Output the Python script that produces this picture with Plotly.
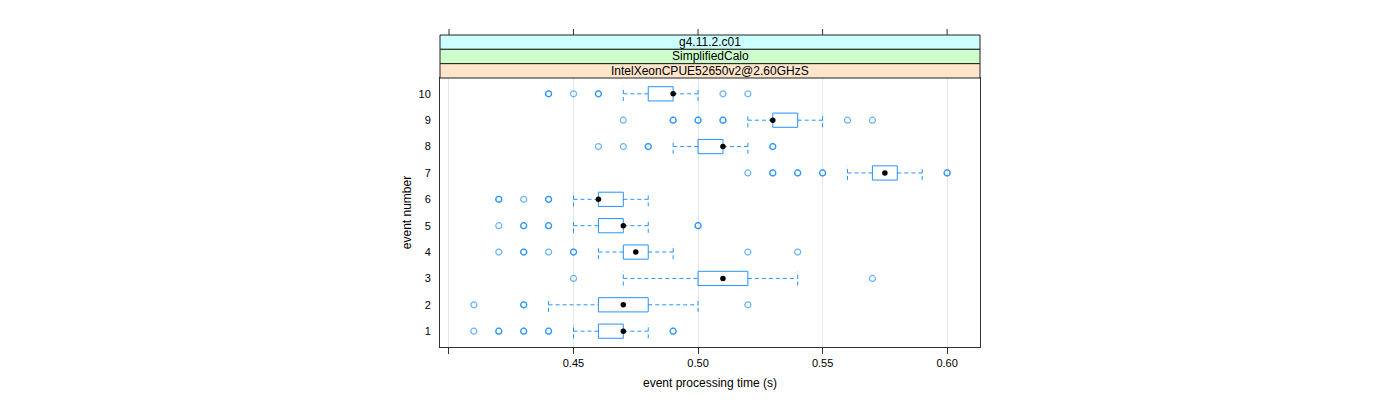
import plotly.graph_objects as go

# ---- data ----
events = [1, 2, 3, 4, 5, 6, 7, 8, 9, 10]
q1 = [0.46, 0.46, 0.50, 0.47, 0.46, 0.46, 0.57, 0.50, 0.53, 0.48]
medians = [0.47, 0.47, 0.51, 0.475, 0.47, 0.46, 0.575, 0.51, 0.53, 0.49]
q3 = [0.47, 0.48, 0.52, 0.48, 0.47, 0.47, 0.58, 0.51, 0.54, 0.49]
whisker_lo = [0.45, 0.44, 0.47, 0.46, 0.45, 0.45, 0.56, 0.49, 0.52, 0.47]
whisker_hi = [0.48, 0.50, 0.54, 0.49, 0.48, 0.48, 0.59, 0.52, 0.55, 0.50]
outliers = {
    1: [0.41, 0.42, 0.42, 0.43, 0.43, 0.44, 0.44, 0.49, 0.49],
    2: [0.41, 0.43, 0.43, 0.52],
    3: [0.45, 0.57],
    4: [0.42, 0.43, 0.43, 0.44, 0.45, 0.45, 0.52, 0.54],
    5: [0.42, 0.43, 0.43, 0.44, 0.44, 0.50, 0.50],
    6: [0.42, 0.42, 0.43, 0.44, 0.44],
    7: [0.52, 0.53, 0.53, 0.54, 0.54, 0.55, 0.55, 0.60, 0.60],
    8: [0.46, 0.47, 0.48, 0.48, 0.53, 0.53],
    9: [0.47, 0.49, 0.49, 0.50, 0.50, 0.51, 0.51, 0.56, 0.57],
    10: [0.44, 0.44, 0.45, 0.46, 0.46, 0.51, 0.52],
}
strip_labels = ["g4.11.2.c01", "SimplifiedCalo", "IntelXeonCPUE52650v2@2.60GHzS"]
strip_colors = ["#CCFFFF", "#CCFFCC", "#FFE5CC"]
x_tickvals = [0.40, 0.45, 0.50, 0.55, 0.60]
x_ticktext = ["", "0.45", "0.50", "0.55", "0.60"]

BLUE = "#0080ff"
H = 0.27  # half box height (data units)
FONT = "Liberation Sans, Arial, Helvetica, sans-serif"
OFF = 8  # page body offset

fig = go.Figure()

# boxes
bx, by = [], []
for e, a, b in zip(events, q1, q3):
    bx += [a, b, b, a, a, None]
    by += [e - H, e - H, e + H, e + H, e - H, None]
fig.add_trace(go.Scatter(x=bx, y=by, mode="lines", line=dict(color=BLUE, width=1),
                         opacity=0.85, hoverinfo="skip", showlegend=False))

# whiskers (dashed) and caps
wx, wy = [], []
for e, lo, a, b, hi in zip(events, whisker_lo, q1, q3, whisker_hi):
    wx += [lo, a, None, b, hi, None]
    wy += [e, e, None, e, e, None]
    wx += [lo, lo, None, hi, hi, None]
    wy += [e - H, e + H, None, e - H, e + H, None]
fig.add_trace(go.Scatter(x=wx, y=wy, mode="lines",
                         line=dict(color=BLUE, width=1, dash="4px,3px"),
                         opacity=0.85, hoverinfo="skip", showlegend=False))

# outliers
ox, oy = [], []
for e in events:
    for v in outliers[e]:
        ox.append(v)
        oy.append(e)
fig.add_trace(go.Scatter(x=ox, y=oy, mode="markers",
                         marker=dict(symbol="circle-open", size=6, color=BLUE,
                                     opacity=0.6, line=dict(width=1.2, color=BLUE)),
                         showlegend=False))

# medians
fig.add_trace(go.Scatter(x=medians, y=events, mode="markers",
                         marker=dict(symbol="circle", size=5.5, color="black"),
                         showlegend=False))

# layout geometry (target pixel positions in the screenshot)
plot_left, plot_right = 440, 980
plot_top, panel_top, plot_bottom = 35, 78, 347
ph = plot_bottom - plot_top
ydom_top = (plot_bottom - panel_top) / ph

shapes = []
strip_h = (1 - ydom_top) / 3
annotations = []
for i, (lab, col) in enumerate(zip(strip_labels, strip_colors)):
    y1 = 1 - i * strip_h
    y0 = y1 - strip_h
    shapes.append(dict(type="rect", xref="paper", yref="paper", x0=0, x1=1, y0=y0, y1=y1,
                       fillcolor=col, line=dict(color="#222", width=1), layer="above"))
    annotations.append(dict(text=lab, xref="paper", yref="paper", x=0.5, y=(y0 + y1) / 2,
                            showarrow=False, font=dict(family=FONT, size=12, color="black"),
                            yanchor="middle"))
# top ticks above strips
for tv in x_tickvals:
    shapes.append(dict(type="line", xref="x", yref="paper", x0=tv, x1=tv, y0=1, y1=1 + 6 / ph,
                       line=dict(color="#333", width=1)))

fig.update_layout(
    width=1400, height=400,
    margin=dict(l=plot_left - OFF, r=1400 - (plot_right - OFF),
                t=plot_top - OFF, b=400 - (plot_bottom - OFF)),
    paper_bgcolor="white", plot_bgcolor="white",
    font=dict(family=FONT, size=11, color="black"),
    shapes=shapes, annotations=annotations,
    xaxis=dict(range=[0.3964, 0.6132], tickvals=x_tickvals, ticktext=x_ticktext,
               showgrid=True, gridcolor="#E6E6E6", gridwidth=1, zeroline=False,
               showline=True, linecolor="#333", linewidth=1, mirror=True,
               ticks="outside", ticklen=6, tickcolor="#333",
               title=dict(text="event processing time (s)", font=dict(size=12), standoff=10)),
    yaxis=dict(domain=[0, ydom_top], range=[0.4, 10.6], tickvals=events,
               ticktext=[str(e) for e in events], showgrid=False, zeroline=False,
               showline=True, linecolor="#333", linewidth=1, mirror=True,
               ticks="", ticklabelstandoff=6,
               title=dict(text="event number", font=dict(size=12), standoff=4)),
)

fig.write_html("out.html")
